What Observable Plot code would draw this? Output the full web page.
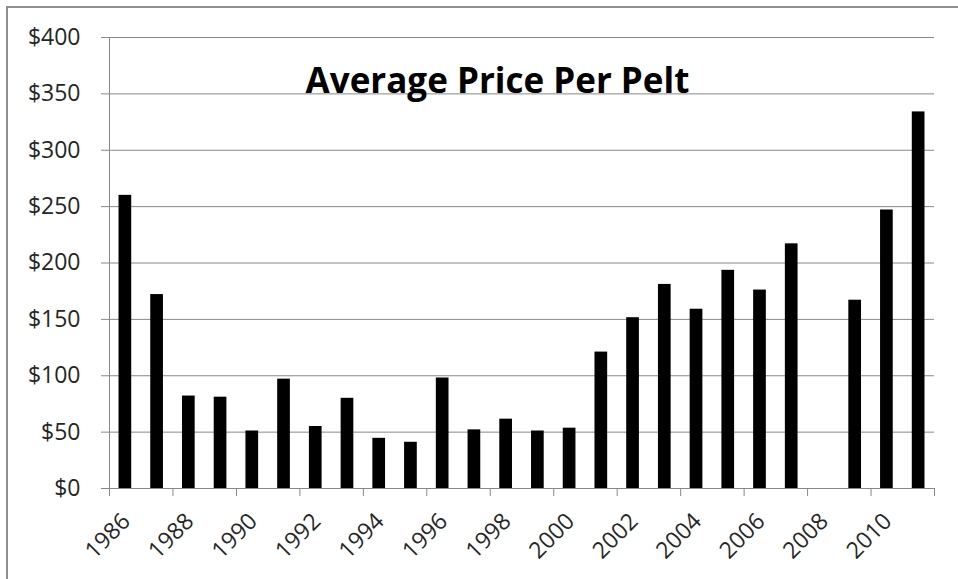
<!DOCTYPE html>
<html><head><meta charset="utf-8">
<script src="https://cdn.jsdelivr.net/npm/d3@7"></script>
<script src="https://cdn.jsdelivr.net/npm/@observablehq/plot@0.6"></script>
<style>
body{margin:0;background:#fff;}
#wrap{position:relative;width:958px;height:579px;overflow:hidden;background:#fff;}
#border{position:absolute;left:6px;top:6px;width:1200px;height:1200px;border:2px solid #8f8f8f;box-sizing:border-box;}
#chart{position:absolute;left:0;top:0;}
</style></head><body>
<div id="wrap"><div id="border"></div><div id="chart"></div></div>
<script>
const years = [1986,1987,1988,1989,1990,1991,1992,1993,1994,1995,1996,1997,1998,1999,2000,2001,2002,2003,2004,2005,2006,2007,2008,2009,2010,2011];
const prices = [260,172,82,81,51,97,55,80,44.5,41,98,52,61.5,51,53.5,121,151.5,181,159,193.5,176,217,null,167,247,334];
const yTicks = [0,50,100,150,200,250,300,350,400];
const labelYears = [1986,1988,1990,1992,1994,1996,1998,2000,2002,2004,2006,2008,2010];
const lastYear = [2011];
const title = "Average Price Per Pelt";

const data = years.map((year, i) => ({year, price: prices[i]}));
const W = 958, H = 579, mL = 109, mR = 24, mT = 37, mB = 91;
const step = (W - mL - mR) / years.length;
const gray = "#888";

const plot = Plot.plot({
  width: W, height: H,
  marginLeft: mL, marginRight: mR, marginTop: mT, marginBottom: mB,
  style: {fontFamily: "Open Sans", fontSize: "23px", color: "#262626", background: "transparent", overflow: "visible"},
  x: {type: "band", domain: years, paddingInner: 0.6, paddingOuter: 0.3, round: false, label: null},
  y: {domain: [0, 400], label: null},
  marks: [
    Plot.gridY(yTicks, {stroke: gray, strokeOpacity: 1}),
    Plot.axisY({ticks: yTicks, tickFormat: d => "$" + d, tickSize: 8, tickPadding: 21, stroke: gray, fill: "#262626", label: null}),
    Plot.axisX({ticks: labelYears, tickSize: 8, tickFormat: () => "", stroke: gray, dx: -step / 2, label: null}),
    Plot.axisX({ticks: lastYear, tickSize: 8, tickFormat: () => "", stroke: gray, dx: step / 2, label: null}),
    Plot.axisX({ticks: labelYears, tickSize: 0, tickRotate: -45, tickPadding: 29, dx: 1, tickFormat: d => String(d), fill: "#262626", label: null}),
    Plot.barY(data, {x: "year", y: "price", fill: "black"}),
    Plot.ruleY([0], {stroke: gray}),
    Plot.frame({anchor: "left", stroke: gray}),
    Plot.text([title], {frameAnchor: "top-left", dx: 388, dy: 55, lineAnchor: "bottom", textAnchor: "middle", fontSize: 35, fontWeight: "bold", fill: "black"})
  ]
});
document.getElementById("chart").appendChild(plot);
</script>
</body></html>
